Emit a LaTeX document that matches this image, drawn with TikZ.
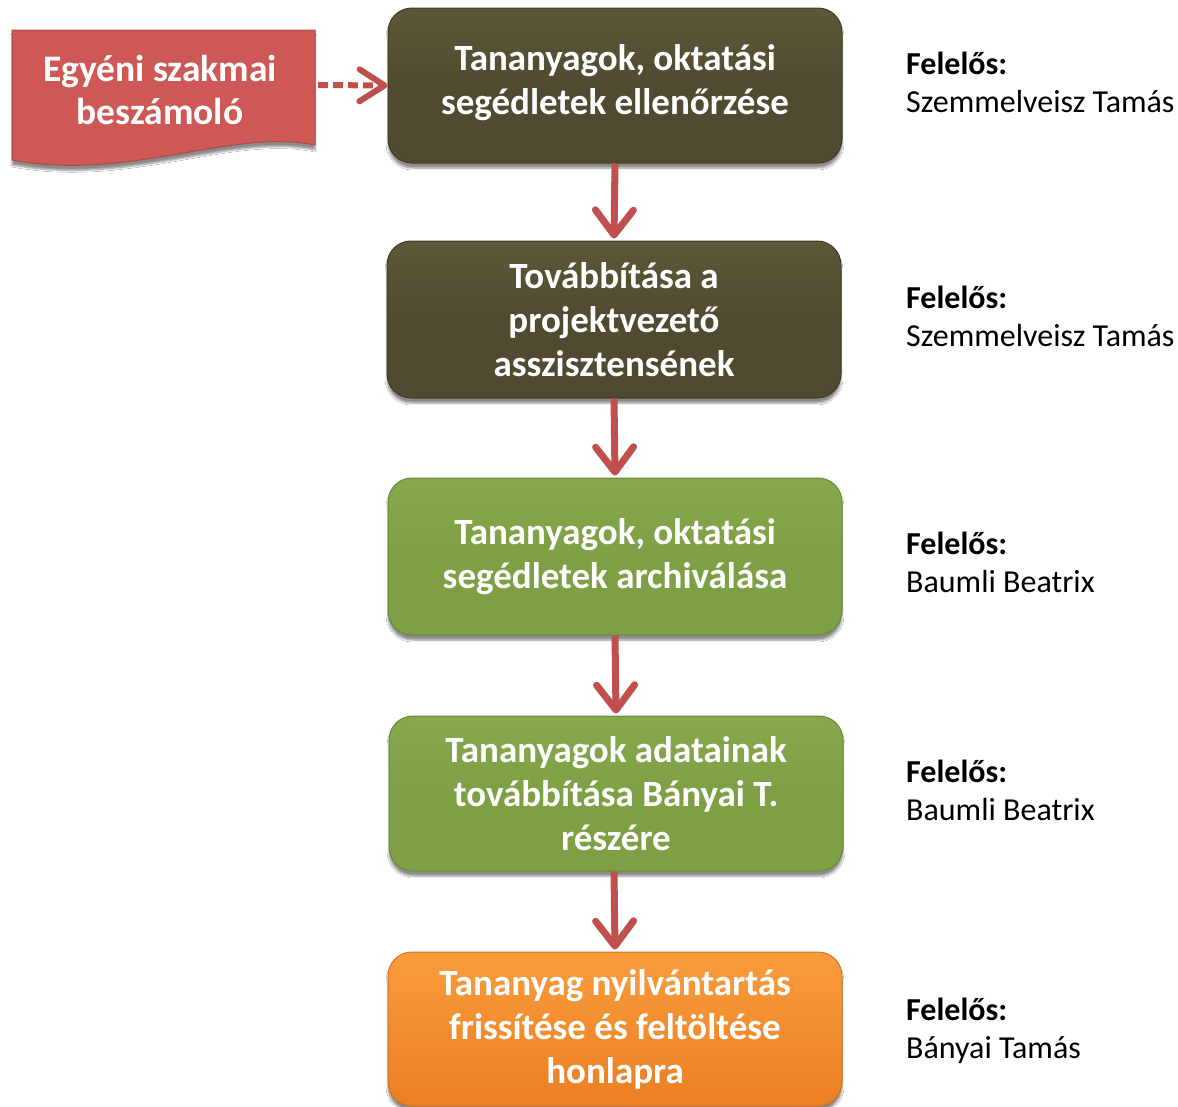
\documentclass[tikz,border=0pt]{standalone}
\usepackage{fontspec}
\setmainfont{Carlito}
\usetikzlibrary{arrows.meta,shadows.blur,positioning}
\definecolor{darkbox}{HTML}{504A30}
\definecolor{darkboxtop}{HTML}{5E5839}
\definecolor{greenbox}{HTML}{7F9F45}
\definecolor{greenboxtop}{HTML}{88A84E}
\definecolor{orangetop}{HTML}{FA9C3C}
\definecolor{orangebot}{HTML}{EA7F22}
\definecolor{docred}{HTML}{CD5856}
\definecolor{arrowred}{HTML}{C0504D}
\tikzset{
  stepbox/.style={rounded corners=24pt, minimum width=#1, align=center,
    text=white, font=\fontsize{37}{44}\selectfont\bfseries, inner sep=0pt,
    blur shadow={shadow xshift=0pt, shadow yshift=-5pt, shadow blur steps=6, shadow opacity=45}},
  darkstep/.style={stepbox=454pt, top color=darkboxtop, bottom color=darkbox, middle color=darkbox, draw=darkbox!80!black, line width=1pt},
  greenstep/.style={stepbox=454pt, top color=greenboxtop, bottom color=greenbox, middle color=greenbox, draw=greenbox!85!black, line width=1pt},
  orangestep/.style={stepbox=454pt, top color=orangetop, bottom color=orangebot, draw=orangebot!90!black, line width=1pt},
  flowarrow/.style={draw=arrowred, line width=7pt, -{Straight Barb[length=25pt, width=38pt, line width=7pt, round]}},
  dasharrow/.style={draw=arrowred, line width=6pt, dash pattern=on 10pt off 5pt,
    -{Straight Barb[length=25pt, width=32pt, line width=6pt, round]}},
  resp/.style={anchor=west, align=left, inner sep=0pt, font=\fontsize{32}{38}\selectfont, text=black},
  doctext/.style={align=center, text=white, font=\fontsize{37.5}{43}\selectfont\bfseries, inner sep=0pt}
}
\begin{document}
\begin{tikzpicture}[x=1pt,y=1pt]
\useasboundingbox (0,0) rectangle (1178,-1106);
\fill[white] (0,0) rectangle (1178,-1106);

% document shape
\path[fill=docred, draw=docred!85!black, line width=1pt,
  blur shadow={shadow xshift=0pt, shadow yshift=-5pt, shadow blur steps=6, shadow opacity=45}]
  (12,-30) -- (315,-30) -- (315,-145)
  .. controls (230,-128) and (130,-182) .. (12,-160) -- cycle;
\node[doctext] (doc) at (160,-90) {Egyéni szakmai\\beszámoló};
\coordinate (docr) at (318,-85);

% steps
\node[darkstep, minimum height=155pt] (s1) at (615,-85.5) {Tananyagok, oktatási\\segédletek ellenőrzése\rule[-12pt]{0pt}{0pt}};
\node[darkstep, minimum height=157pt] (s2) at (614,-319.5) {Továbbítása a\\projektvezető\\asszisztensének};
\node[greenstep, minimum height=157pt] (s3) at (615,-556.5) {Tananyagok, oktatási\\segédletek archiválása};
\node[greenstep, minimum height=155pt] (s4) at (616,-793.5) {Tananyagok adatainak\\továbbítása Bányai T.\\részére};
\node[orangestep, minimum height=154pt] (s5) at (615,-1029) {Tananyag nyilvántartás\\frissítése és feltöltése\\honlapra};

% arrows
\draw[dasharrow] (docr) -- (s1.west);
\draw[flowarrow] (s1.south) -- ([yshift=2pt]s2.north);
\draw[flowarrow] (s2.south) -- ([yshift=2pt]s3.north);
\draw[flowarrow] (s3.south) -- ([yshift=2pt]s4.north);
\draw[flowarrow] ([xshift=-2pt]s4.south) -- ([yshift=2pt]s5.north);

% responsibilities
\node[resp] (r1) at (906,-82) {\textbf{Felelős:}\\Szemmelveisz Tamás};
\node[resp] (r2) at (906,-316) {\textbf{Felelős:}\\Szemmelveisz Tamás};
\node[resp] (r3) at (906,-562) {\textbf{Felelős:}\\Baumli Beatrix};
\node[resp] (r4) at (906,-790) {\textbf{Felelős:}\\Baumli Beatrix};
\node[resp] (r5) at (906,-1031) {\textbf{Felelős:}\\Bányai Tamás};
\end{tikzpicture}
\end{document}
